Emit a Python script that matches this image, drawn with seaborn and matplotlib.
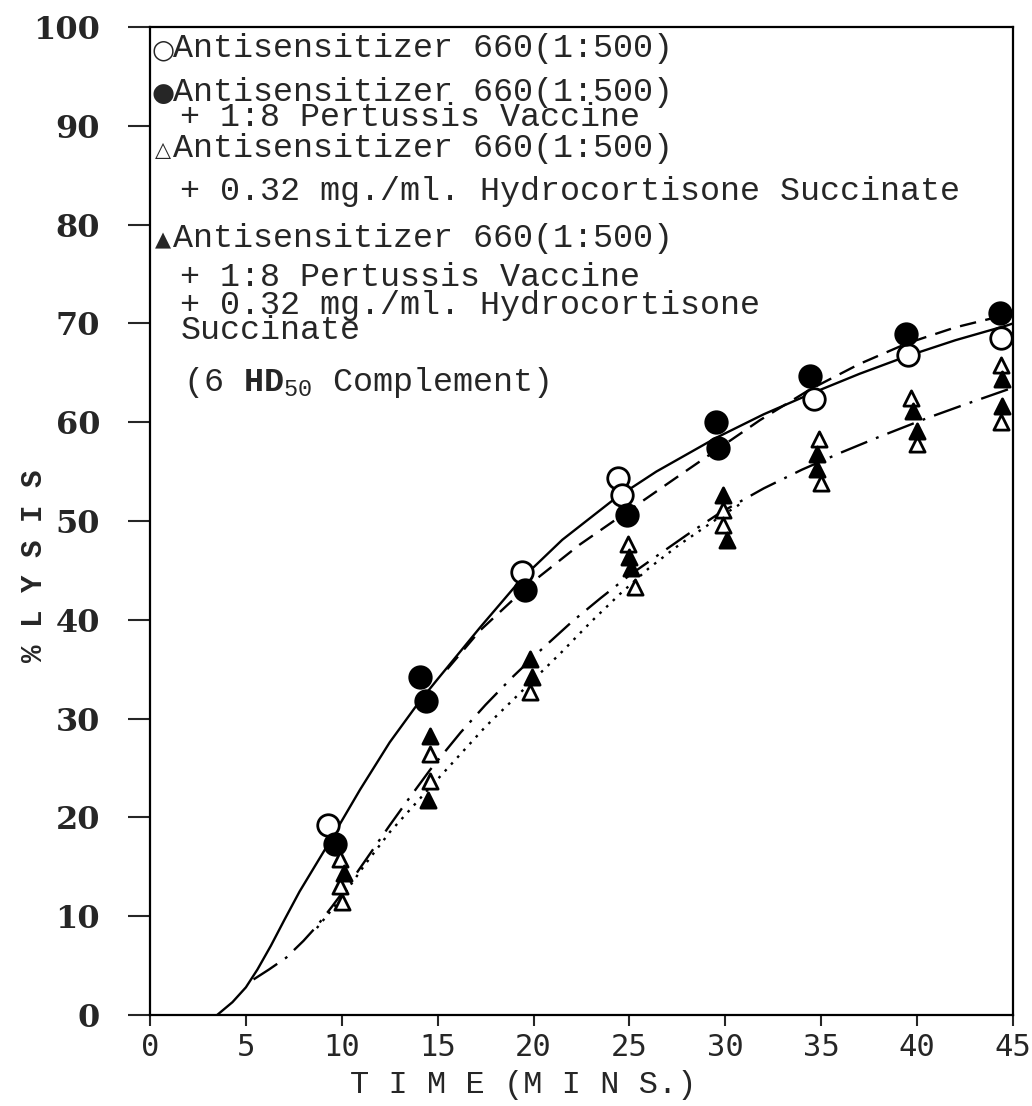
import numpy as np
import pandas as pd
import matplotlib
matplotlib.use("Agg")
import matplotlib.pyplot as plt
import seaborn as sns

# ---- values (time in mins, % lysis) ----
# open circle: Antisensitizer 660 (1:500)
open_circle_time = [9.3, 19.4, 24.4, 24.6, 34.6, 39.5, 44.4]
open_circle_lysis = [19.2, 44.8, 54.4, 52.6, 62.3, 66.8, 68.5]

# filled circle: + 1:8 pertussis vaccine
filled_circle_time = [9.65, 14.1, 14.4, 19.55, 24.85, 29.5, 29.6, 34.4, 39.4, 44.3]
filled_circle_lysis = [17.3, 34.2, 31.8, 43.0, 50.6, 60.0, 57.4, 64.7, 68.9, 71.1]

# open triangle: + hydrocortisone succinate
open_tri_time = [9.9, 9.9, 10.0, 14.6, 14.6, 19.8, 24.9, 25.3, 29.9, 29.9,
                 34.9, 35.0, 39.7, 40.0, 44.4, 44.4]
open_tri_lysis = [15.8, 13.1, 11.4, 26.4, 23.7, 32.7, 47.7, 43.3, 51.1, 49.6,
                  58.3, 53.8, 62.5, 57.8, 65.8, 60.0]

# filled triangle: + pertussis + hydrocortisone
filled_tri_time = [10.1, 14.6, 14.5, 19.8, 19.9, 25.0, 25.1, 29.9, 30.1,
                   34.8, 34.8, 39.8, 40.0, 44.45, 44.45]
filled_tri_lysis = [14.4, 28.2, 21.8, 36.0, 34.2, 46.4, 45.2, 52.6, 48.1,
                    56.8, 55.3, 61.1, 59.1, 64.4, 61.6]

# hand drawn curves
solid_time = [3.5, 4.3, 5.0, 5.6, 6.3, 7.0, 7.8, 9.2, 10.95, 12.5, 14.0, 15.0,
              17.2, 19.4, 21.5, 24.2, 26.4, 29.5, 32.0, 34.6, 37.0, 39.5, 42.0, 44.7, 45.0]
solid_lysis = [0.0, 1.3, 2.8, 4.6, 7.0, 9.6, 12.5, 17.0, 22.8, 27.6, 31.6, 34.0,
               39.2, 44.2, 48.1, 52.2, 55.0, 58.4, 60.8, 63.0, 64.9, 66.7, 68.3, 69.8, 70.0]

dashed_time = [15.5, 17.2, 19.8, 22.4, 25.0, 27.6, 29.4, 31.8, 34.4, 37.0, 39.5, 42.0, 44.5, 45.0]
dashed_lysis = [35.0, 38.9, 43.6, 47.6, 51.1, 54.6, 57.0, 60.2, 63.3, 65.9, 68.0, 69.6, 70.8, 71.0]

dashdot_time = [5.4, 6.2, 7.1, 8.0, 8.7, 9.5, 10.5, 11.5, 12.5, 13.5, 14.6, 16.2, 17.5,
                18.9, 20.3, 22.0, 23.5, 25.0, 26.6, 28.0, 29.7, 32.0, 34.0, 36.0, 38.0,
                40.5, 42.5, 45.0]
dashdot_lysis = [3.6, 4.6, 5.8, 7.5, 9.0, 11.0, 13.6, 16.4, 19.2, 21.9, 24.8, 28.6, 31.4,
                 34.2, 36.8, 39.8, 42.2, 44.5, 46.7, 48.6, 50.8, 53.3, 55.2, 56.9, 58.5,
                 60.4, 61.8, 63.5]

dotted_time = [8.7, 10.0, 11.2, 12.5, 14.4, 16.0, 17.5, 19.3, 21.5, 23.0, 24.5, 26.0, 27.6, 29.4, 31.0]
dotted_lysis = [8.8, 11.9, 15.2, 18.5, 22.6, 26.0, 29.2, 32.6, 36.8, 39.8, 42.6, 45.2, 47.6, 50.0, 52.0]

x_ticks = [0, 5, 10, 15, 20, 25, 30, 35, 40, 45]
x_tick_labels = ["0", "5", "10", "15", "20", "25", "30", "35", "40", "45"]
y_ticks = [0, 10, 20, 30, 40, 50, 60, 70, 80, 90, 100]
y_tick_labels = ["0", "10", "20", "30", "40", "50", "60", "70", "80", "90", "100"]

legend_symbols = ["\u25CB", "\u25CF", "", "\u25B3", "", "\u25B2", "", "", "", ""]
legend_lines = [
    "Antisensitizer 660(1:500)",
    "Antisensitizer 660(1:500)",
    "+ 1:8 Pertussis Vaccine",
    "Antisensitizer 660(1:500)",
    "+ 0.32 mg./ml. Hydrocortisone Succinate",
    "Antisensitizer 660(1:500)",
    "+ 1:8 Pertussis Vaccine",
    "+ 0.32 mg./ml. Hydrocortisone",
    "Succinate",
    r"(6 $\mathbf{HD}_{50}$ Complement)",
]

sns.set_style("ticks")
plt.rcParams["font.family"] = ["Liberation Mono", "DejaVu Sans"]
plt.rcParams["mathtext.fontset"] = "custom"
plt.rcParams["mathtext.rm"] = "Liberation Mono"
plt.rcParams["mathtext.bf"] = "Liberation Mono:bold"

MONO = ["Liberation Mono", "DejaVu Sans"]

fig = plt.figure(figsize=(10.32, 11.06), dpi=100)
ax = fig.add_axes([150 / 1032, 1 - 1015 / 1106, 863 / 1032, 988 / 1106])

# curves
curves = [
    (solid_time, solid_lysis, "-"),
    (dashed_time, dashed_lysis, (0, (7, 4))),
    (dashdot_time, dashdot_lysis, (0, (12, 4, 1.2, 4))),
    (dotted_time, dotted_lysis, (0, (1.1, 2.8))),
]
for t, y, ls in curves:
    df = pd.DataFrame({"time": t, "lysis": y})
    sns.lineplot(data=df, x="time", y="lysis", ax=ax, color="black", lw=1.7,
                 linestyle=ls, sort=False, estimator=None)

# points
points = [
    (open_circle_time, open_circle_lysis, "o", "white", 240),
    (filled_circle_time, filled_circle_lysis, "o", "black", 240),
    (open_tri_time, open_tri_lysis, "^", "white", 120),
    (filled_tri_time, filled_tri_lysis, "^", "black", 120),
]
for t, y, mk, fc, s in points:
    df = pd.DataFrame({"time": t, "lysis": y})
    sns.scatterplot(data=df, x="time", y="lysis", ax=ax, marker=mk, s=s,
                    facecolor=fc, edgecolor="black", linewidth=2, zorder=3,
                    clip_on=False)

ax.set_xlim(0, 45)
ax.set_ylim(0, 100)
ax.set_xticks(x_ticks)
ax.set_xticklabels(x_tick_labels, family=["DejaVu Sans Mono"], fontsize=22)
ax.set_yticks(y_ticks)
ax.set_yticklabels(y_tick_labels, family=["DejaVu Serif"], fontweight="bold", fontsize=23)
ax.tick_params(axis="y", direction="out", length=16, width=1.5, pad=20)
ax.tick_params(axis="x", direction="out", length=8, width=1.5, pad=5)
for sp in ax.spines.values():
    sp.set_visible(True)
    sp.set_linewidth(1.6)
    sp.set_color("black")

ax.set_xlabel("T I M E (M I N S.)", fontsize=23, family=MONO)
ax.xaxis.set_label_coords(0.432, -0.056)
ax.set_ylabel("% L Y S I S", fontsize=21, family=MONO, fontweight="bold")
ax.yaxis.set_label_coords(-0.118, 0.455)

# legend block typed into the plot
legend_x = [0.027, 0.027, 0.035, 0.027, 0.035, 0.027, 0.035, 0.035, 0.035, 0.038]
legend_y = [0.9787, 0.9342, 0.9089, 0.8775, 0.833, 0.7864, 0.746, 0.7186, 0.6933, 0.6397]
for sym, txt, lx, ly in zip(legend_symbols, legend_lines, legend_x, legend_y):
    if sym:
        ax.text(0.015, ly - 0.002, sym, transform=ax.transAxes, ha="center", va="center",
                fontsize=19 if sym in "\u25CB\u25CF" else 15, family=["DejaVu Sans"])
    ax.text(lx, ly, txt, transform=ax.transAxes, ha="left", va="center",
            fontsize=24, family=MONO)

fig.savefig("out.png", dpi=100)
